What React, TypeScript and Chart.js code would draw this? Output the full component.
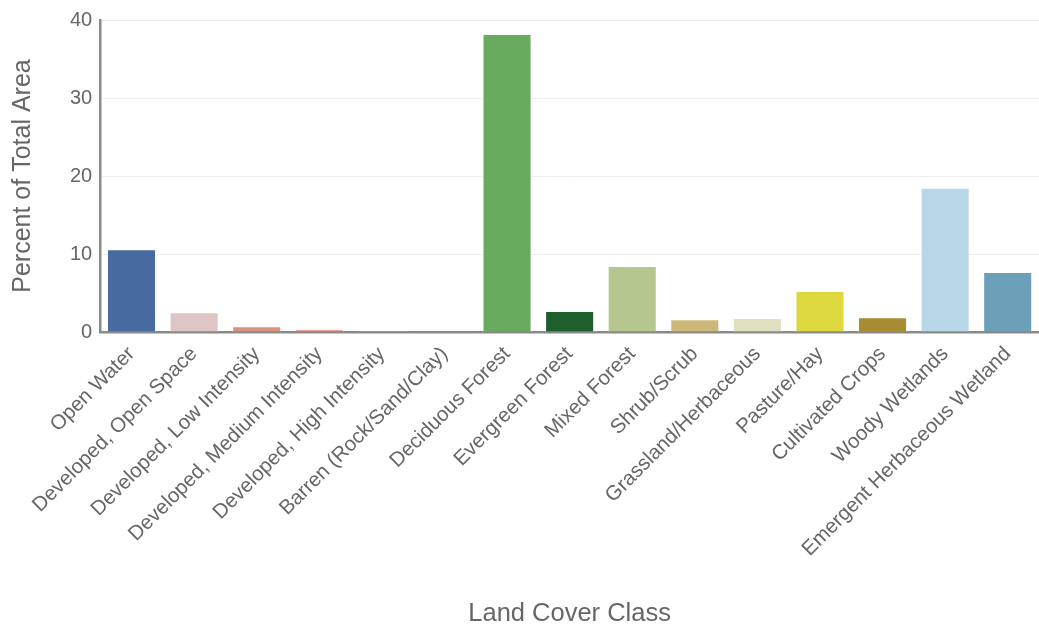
import React, { useEffect, useRef } from "react";
import { Chart, registerables } from "chart.js";

Chart.register(...registerables);

const categories = [
  "Open Water",
  "Developed, Open Space",
  "Developed, Low Intensity",
  "Developed, Medium Intensity",
  "Developed, High Intensity",
  "Barren (Rock/Sand/Clay)",
  "Deciduous Forest",
  "Evergreen Forest",
  "Mixed Forest",
  "Shrub/Scrub",
  "Grassland/Herbaceous",
  "Pasture/Hay",
  "Cultivated Crops",
  "Woody Wetlands",
  "Emergent Herbaceous Wetland",
];

const percentValues = [10.6, 2.55, 0.75, 0.35, 0.15, 0.1, 38.2, 2.7, 8.45, 1.65, 1.8, 5.25, 1.9, 18.5, 7.7];

const barColors = [
  "#476ba0",
  "#dec5c5",
  "#d99282",
  "#e8827a",
  "#c9a0a0",
  "#b3ac9f",
  "#68ab5f",
  "#1c5f2c",
  "#b5c78f",
  "#ccb879",
  "#e0e0c0",
  "#dcd83d",
  "#a78c32",
  "#b8d8ea",
  "#6ca0b9",
];

const yTicks = [0, 10, 20, 30, 40];

export default function App() {
  const ref = useRef<HTMLCanvasElement | null>(null);
  useEffect(() => {
    if (!ref.current) return;
    const font = "'Liberation Sans', Arial, sans-serif";
    const chart = new Chart(ref.current, {
      type: "bar",
      data: {
        labels: categories,
        datasets: [
          {
            data: percentValues,
            backgroundColor: barColors,
            borderColor: "rgba(255,255,255,0.6)",
            borderWidth: 1,
            categoryPercentage: 0.8,
            barPercentage: 0.98,
          },
        ],
      },
      options: {
        animation: false,
        responsive: false,
        maintainAspectRatio: false,
        layout: { padding: { top: 12, right: 0, left: 8, bottom: 0 } },
        plugins: { legend: { display: false }, tooltip: { enabled: false } },
        scales: {
          x: {
            grid: { display: false, drawTicks: false },
            border: { color: "#8a8a8a", width: 2.5 },
            ticks: {
              color: "#666",
              font: { family: font, size: 20.5 },
              maxRotation: 45,
              minRotation: 45,
              autoSkip: false,
              padding: 10,
            },
            title: {
              display: true,
              text: "Land Cover Class",
              color: "#666",
              font: { family: font, size: 25.5 },
              padding: { top: 27, bottom: -3 },
            },
          },
          y: {
            min: 0,
            max: 40,
            afterBuildTicks: (axis: any) => {
              axis.ticks = yTicks.map((v) => ({ value: v }));
            },
            grid: { color: "#eeeeee", drawTicks: false },
            border: { color: "#8a8a8a", width: 2.5 },
            ticks: {
              color: "#666",
              font: { family: font, size: 20 },
              padding: 8,
            },
            title: {
              display: true,
              text: "Percent of Total Area",
              color: "#666",
              font: { family: font, size: 25 },
              padding: { top: 0, bottom: 24 },
            },
          },
        },
      },
    });
    return () => chart.destroy();
  }, []);
  return (
    <div style={{ position: "absolute", left: 0, top: 0, width: 1039, height: 626, background: "#fff" }}>
      <canvas ref={ref} width={1039} height={626} style={{ width: 1039, height: 626 }} />
    </div>
  );
}
